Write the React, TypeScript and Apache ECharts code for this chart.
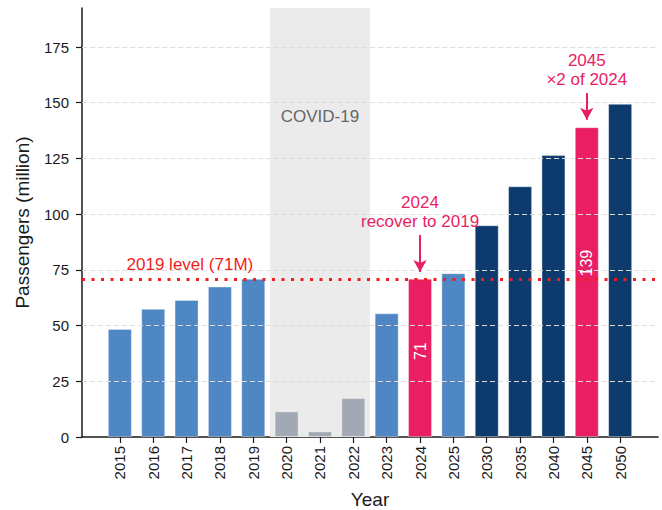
import React, { useEffect, useRef } from 'react';
import * as echarts from 'echarts';

const years = ['2015', '2016', '2017', '2018', '2019', '2020', '2021', '2022', '2023', '2024', '2025', '2030', '2035', '2040', '2045', '2050'];
const passengers = [48.5, 57.5, 61.5, 67.5, 71, 11.5, 2.5, 17.5, 55.5, 71, 73.5, 95, 112.5, 126.5, 139, 149.5];
const groups = ['actual', 'actual', 'actual', 'actual', 'actual', 'covid', 'covid', 'covid', 'actual', 'highlight', 'actual', 'forecast', 'forecast', 'forecast', 'highlight', 'forecast'];
const groupColors: Record<string, string> = {
  actual: '#4f86c4',
  covid: '#a3a9b4',
  highlight: '#e91e63',
  forecast: '#0d3b6e',
};
const yTicks = [0, 25, 50, 75, 100, 125, 150, 175];
const yMax = 192.5;
const level2019 = 71;
const levelLabel = '2019 level (71M)';
const covidFirst = '2020';
const covidLast = '2022';
const covidLabel = 'COVID-19';
const covidLabelValue = 144;
const labeledYears = ['2024', '2045'];
const valueLabelAt = [38.5, 78];
const annotationYears = ['2024', '2045'];
const annotationTexts = ['2024\nrecover to 2019', '2045\n×2 of 2024'];
const arrowFrom = [90.6, 154.4];
const arrowTo = [74, 142.3];

const FONT = '"Liberation Sans", Arial, Helvetica, sans-serif';
const PINK = '#e91e63';
const RED = '#f21d1d';
const INK = '#1a1a1a';

export default function App() {
  const ref = useRef<HTMLDivElement>(null);
  useEffect(() => {
    if (!ref.current) return;
    const chart = echarts.init(ref.current, null, { renderer: 'svg' });
    const idx = years.map((_, i) => i);
    const covidStart = years.indexOf(covidFirst) - 0.5;
    const covidEnd = years.indexOf(covidLast) + 0.5;
    const covidMid = (covidStart + covidEnd) / 2;

    const arrowLines = annotationYears.map((y, k) => {
      const i = years.indexOf(y);
      return [
        { coord: [i, arrowFrom[k]], symbol: 'none', lineStyle: { color: PINK, width: 2, type: 'solid' } },
        { coord: [i, arrowTo[k]], symbol: 'arrow', symbolSize: [10, 12], lineStyle: { color: PINK, width: 2, type: 'solid' } },
      ];
    });

    const annotationPoints = annotationYears.map((y, k) => ({
      coord: [years.indexOf(y), arrowFrom[k]],
      symbol: 'circle',
      symbolSize: 0,
      label: {
        show: true,
        position: 'top',
        distance: 4,
        formatter: annotationTexts[k],
        color: PINK,
        fontSize: 17,
        lineHeight: 19,
        align: 'center',
        fontFamily: FONT,
      },
    }));

    const valuePoints = labeledYears.map((y, k) => {
      const i = years.indexOf(y);
      const v = passengers[i];
      return {
        coord: [i, valueLabelAt[k]],
        symbol: 'circle',
        symbolSize: 0,
        label: {
          show: true,
          position: 'inside',
          formatter: String(v),
          rotate: 90,
          color: '#ffffff',
          fontSize: 16,
          fontFamily: FONT,
        },
      };
    });

    const option: any = {
      animation: false,
      textStyle: { fontFamily: FONT },
      grid: { left: 82, right: 4, top: 8, bottom: 73, containLabel: false, outerBoundsMode: 'none' },
      xAxis: {
        type: 'value',
        min: -1.135,
        max: 16.135,
        name: 'Year',
        nameLocation: 'middle',
        nameGap: 53,
        nameTextStyle: { fontSize: 19, color: INK, fontFamily: FONT },
        axisLine: { show: true, onZero: false, lineStyle: { color: INK, width: 1.5 } },
        axisTick: { show: true, length: 6, customValues: idx, lineStyle: { color: INK, width: 1.2 } },
        axisLabel: {
          customValues: idx,
          formatter: (v: number) => years[Math.round(v)],
          rotate: 90,
          fontSize: 15,
          color: INK,
          margin: 9,
          fontFamily: FONT,
        },
        splitLine: { show: false },
      },
      yAxis: {
        type: 'value',
        min: 0,
        max: yMax,
        name: 'Passengers (million)',
        nameLocation: 'middle',
        nameGap: 50,
        nameTextStyle: { fontSize: 19, color: INK, fontFamily: FONT },
        axisLine: { show: true, onZero: false, lineStyle: { color: INK, width: 1.5 } },
        axisTick: { show: true, length: 6, customValues: yTicks, lineStyle: { color: INK, width: 1.2 } },
        axisLabel: { customValues: yTicks, fontSize: 15, color: INK, margin: 13, fontFamily: FONT },
        splitLine: { show: false },
      },
      series: [
        {
          type: 'scatter',
          data: [],
          z: 1,
          silent: true,
          markLine: {
            silent: true,
            symbol: ['none', 'none'],
            label: { show: false },
            lineStyle: { color: '#dddddd', width: 1, type: [5, 3] },
            data: yTicks.filter((v) => v > 0).map((v) => ({ yAxis: v })),
          },
        },
        {
          type: 'scatter',
          data: [],
          z: 2,
          silent: true,
          markArea: {
            silent: true,
            itemStyle: { color: '#ebebeb' },
            data: [[{ xAxis: covidStart }, { xAxis: covidEnd }]],
          },
        },
        {
          type: 'bar',
          z: 3,
          barWidth: 24,
          data: passengers.map((v, i) => ({
            value: [i, v],
            itemStyle: {
              color: groupColors[groups[i]],
              borderColor: 'rgba(255,255,255,0.35)',
              borderWidth: 1,
            },
          })),
        },
        {
          type: 'scatter',
          data: [],
          z: 4,
          silent: true,
          markLine: {
            silent: true,
            symbol: ['none', 'none'],
            label: { show: false },
            data: [
              { yAxis: level2019, lineStyle: { color: RED, width: 3, type: [3, 6.5] } },
              ...arrowLines,
            ],
          },
          markPoint: {
            silent: true,
            data: [
              {
                coord: [2.1, level2019],
                symbol: 'circle',
                symbolSize: 0,
                label: {
                  show: true,
                  position: 'top',
                  distance: 5.5,
                  formatter: levelLabel,
                  color: RED,
                  fontSize: 17,
                  fontFamily: FONT,
                },
              },
              {
                coord: [covidMid, covidLabelValue],
                symbol: 'circle',
                symbolSize: 0,
                label: {
                  show: true,
                  position: 'inside',
                  formatter: covidLabel,
                  color: '#666666',
                  fontSize: 17,
                  fontFamily: FONT,
                },
              },
              ...annotationPoints,
              ...valuePoints,
            ],
          },
        },
      ],
    };
    chart.setOption(option);
    return () => chart.dispose();
  }, []);
  return <div ref={ref} style={{ width: 662, height: 510, position: 'absolute', left: 0, top: 0, background: '#fff' }} />;
}
